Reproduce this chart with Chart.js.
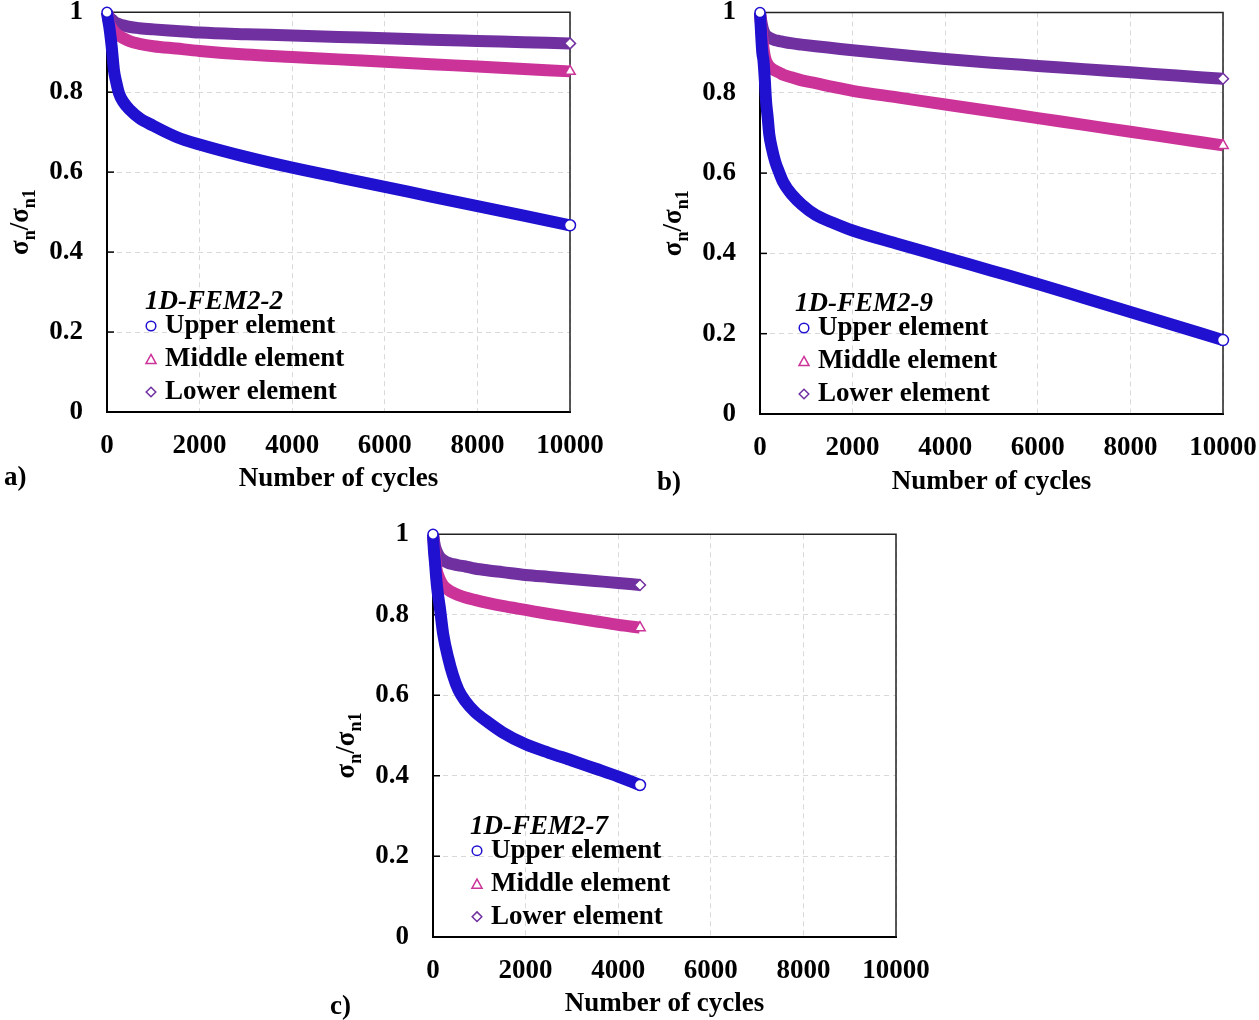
<!DOCTYPE html>
<html>
<head>
<meta charset="utf-8">
<title>Normalised stress vs number of cycles</title>
<script src="https://cdn.jsdelivr.net/npm/chart.js@4.4.1/dist/chart.umd.min.js"></script>
<style>
  html, body { margin: 0; padding: 0; background: #fff; overflow: hidden; }
  body { width: 1259px; height: 1020px; position: relative; }
  canvas { position: absolute; }
</style>
</head>
<body>
<canvas id="chartA" width="630" height="528" style="left:0px;top:-28px"></canvas>
<canvas id="chartB" width="622" height="530" style="left:653px;top:-28px"></canvas>
<canvas id="chartC" width="622" height="526" style="left:326px;top:494px"></canvas>
<script>
// axis ticks and series names
var xTicks = [0, 2000, 4000, 6000, 8000, 10000];
var yTicks = [0, 0.2, 0.4, 0.6, 0.8, 1];
var seriesNames = ['Upper element', 'Middle element', 'Lower element'];

// a) 1D-FEM2-2
var cyclesA = [0, 25, 50, 100, 150, 200, 260, 350, 500, 700, 1000, 1500, 2000, 3000, 4000, 5000, 6000, 7000, 8000, 9000, 10000];
var upperA  = [1.0, 0.98, 0.963, 0.915, 0.855, 0.825, 0.797, 0.776, 0.755, 0.735, 0.716, 0.688, 0.669, 0.638, 0.611, 0.587, 0.563, 0.539, 0.515, 0.491, 0.467];
var middleA = [1.0, 0.985, 0.972, 0.96, 0.952, 0.946, 0.941, 0.935, 0.927, 0.921, 0.915, 0.909, 0.903, 0.894, 0.888, 0.882, 0.876, 0.870, 0.864, 0.858, 0.852];
var lowerA  = [1.0, 0.993, 0.988, 0.982, 0.977, 0.973, 0.970, 0.967, 0.963, 0.960, 0.957, 0.953, 0.949, 0.945, 0.942, 0.938, 0.935, 0.931, 0.928, 0.925, 0.922];

// b) 1D-FEM2-9
var cyclesB = [0, 25, 50, 75, 100, 130, 165, 200, 260, 330, 420, 500, 700, 900, 1200, 1600, 2000, 3000, 4000, 5000, 6000, 7000, 8000, 9000, 10000];
var upperB  = [1.0, 0.945, 0.90, 0.88, 0.84, 0.78, 0.74, 0.697, 0.66, 0.628, 0.60, 0.578, 0.545, 0.522, 0.496, 0.475, 0.457, 0.423, 0.39, 0.357, 0.324, 0.289, 0.254, 0.219, 0.184];
var middleB = [1.0, 0.965, 0.935, 0.912, 0.893, 0.88, 0.872, 0.866, 0.86, 0.855, 0.85, 0.845, 0.838, 0.831, 0.824, 0.814, 0.805, 0.788, 0.771, 0.754, 0.737, 0.72, 0.703, 0.686, 0.669];
var lowerB  = [1.0, 0.98, 0.965, 0.955, 0.948, 0.943, 0.94, 0.937, 0.934, 0.931, 0.929, 0.927, 0.923, 0.92, 0.916, 0.911, 0.906, 0.895, 0.884, 0.875, 0.867, 0.859, 0.851, 0.843, 0.835];

// c) 1D-FEM2-7
var cyclesC = [0, 20, 43, 70, 100, 150, 220, 330, 430, 550, 700, 900, 1200, 1500, 2000, 2500, 3000, 3500, 4000, 4470];
var upperC  = [1.0, 0.96, 0.93, 0.89, 0.857, 0.816, 0.752, 0.692, 0.65, 0.613, 0.585, 0.559, 0.532, 0.508, 0.478, 0.457, 0.438, 0.418, 0.398, 0.377];
var middleC = [1.0, 0.975, 0.945, 0.917, 0.902, 0.887, 0.873, 0.862, 0.855, 0.849, 0.843, 0.837, 0.829, 0.822, 0.812, 0.802, 0.793, 0.784, 0.775, 0.768];
var lowerC  = [1.0, 0.985, 0.97, 0.96, 0.952, 0.943, 0.936, 0.929, 0.926, 0.923, 0.92, 0.915, 0.91, 0.906, 0.899, 0.894, 0.889, 0.884, 0.879, 0.874];

var FONT = '"Liberation Serif", "Times New Roman", serif';
var colors = ['#2010D0', '#CC3399', '#7030A0'];
var styles = ['circle', 'triangle', 'rectRot'];

function drawMarker(ctx, style, x, y, r) {
  ctx.beginPath();
  if (style === 'circle') {
    ctx.arc(x, y, r, 0, Math.PI * 2);
  } else if (style === 'triangle') {
    var h = r * 1.9, w = r * 2.1;
    ctx.moveTo(x, y - h / 2);
    ctx.lineTo(x + w / 2, y + h / 2);
    ctx.lineTo(x - w / 2, y + h / 2);
  } else {
    ctx.moveTo(x, y - r);
    ctx.lineTo(x + r, y);
    ctx.lineTo(x, y + r);
    ctx.lineTo(x - r, y);
  }
  ctx.closePath();
  ctx.fill();
  ctx.stroke();
}

// frame, inner ticks, legend, y title, panel letter
var decor = {
  id: 'decor',
  beforeDatasetsDraw: function (chart) {
    var ctx = chart.ctx, a = chart.chartArea, ys = chart.scales.y;
    ctx.save();
    ctx.strokeStyle = '#222';
    ctx.lineWidth = 1.5;
    ctx.beginPath();
    ctx.moveTo(a.left, a.top);
    ctx.lineTo(a.right, a.top);
    ctx.lineTo(a.right, a.bottom);
    ctx.stroke();
    ctx.strokeStyle = '#000';
    yTicks.forEach(function (v) {
      if (v === 0 || v === 1) return;
      var py = ys.getPixelForValue(v);
      ctx.beginPath();
      ctx.moveTo(a.left, py);
      ctx.lineTo(a.left + 7, py);
      ctx.stroke();
    });
    ctx.restore();
  },
  afterDraw: function (chart, args, o) {
    var ctx = chart.ctx, a = chart.chartArea;
    ctx.save();
    ctx.fillStyle = '#000';
    ctx.textBaseline = 'middle';
    ctx.textAlign = 'left';

    // legend
    ctx.font = 'italic bold 27px ' + FONT;
    ctx.fillText(o.title, a.left + o.titleDx, a.bottom - 110);
    var rows = [-86, -53, -20];
    chart.data.datasets.forEach(function (ds, i) {
      var y = a.bottom + rows[i];
      ctx.fillStyle = '#fff';
      ctx.strokeStyle = ds.borderColor;
      ctx.lineWidth = 1.5;
      drawMarker(ctx, styles[i], a.left + 44, y, 4.8);
      ctx.fillStyle = '#000';
      ctx.font = 'bold 27px ' + FONT;
      ctx.fillText(ds.label, a.left + 58, y);
    });

    // y axis title with subscripts
    var parts = [['σ', 27, 0], ['n', 18, 7], ['/σ', 27, 0], ['n1', 18, 7]];
    ctx.translate(a.left - 79, (a.top + a.bottom) / 2 + 10);
    ctx.rotate(-Math.PI / 2);
    ctx.textBaseline = 'alphabetic';
    var total = 0;
    parts.forEach(function (p) {
      ctx.font = 'bold ' + p[1] + 'px ' + FONT;
      total += ctx.measureText(p[0]).width;
    });
    var x = -total / 2;
    parts.forEach(function (p) {
      ctx.font = 'bold ' + p[1] + 'px ' + FONT;
      ctx.fillText(p[0], x, p[2]);
      x += ctx.measureText(p[0]).width;
    });
    ctx.restore();

    ctx.save();
    ctx.fillStyle = '#000';
    ctx.textBaseline = 'middle';
    ctx.font = 'bold 27px ' + FONT;
    ctx.fillText(o.letter, o.letterX, o.letterY);
    ctx.restore();
  }
};

function makePanel(id, cycles, upper, middle, lower, opt) {
  var values = [upper, middle, lower];
  var datasets = values.map(function (vals, i) {
    var last = vals.length - 1;
    return {
      label: seriesNames[i],
      data: vals.map(function (v, k) { return { x: cycles[k], y: v }; }),
      borderColor: colors[i],
      borderWidth: 12,
      cubicInterpolationMode: 'monotone',
      pointStyle: styles[i],
      pointRadius: function (c) {
        if (c.dataIndex === last) return i === 1 ? 6 : 5.5;
        if (c.dataIndex === 0 && i === 0) return 5;
        return 0;
      },
      pointBackgroundColor: '#fff',
      pointBorderColor: colors[i],
      pointBorderWidth: 1.5,
      clip: false
    };
  });

  return new Chart(document.getElementById(id), {
    type: 'line',
    data: { datasets: datasets },
    options: {
      responsive: false,
      animation: false,
      events: [],
      layout: { padding: { left: 0, top: opt.top, right: opt.right, bottom: 0 } },
      plugins: {
        legend: { display: false },
        tooltip: { enabled: false },
        decor: opt.decor
      },
      scales: {
        x: {
          type: 'linear',
          min: 0,
          max: 10000,
          afterBuildTicks: function (s) { s.ticks = xTicks.map(function (v) { return { value: v }; }); },
          afterFit: function (s) { s.height = opt.xHeight; },
          ticks: {
            padding: 18,
            maxRotation: 0,
            color: '#000',
            font: { family: FONT, size: 27, weight: 'bold' },
            callback: function (v) { return String(v); }
          },
          grid: { color: '#d9d9d9', lineWidth: 1, drawTicks: false },
          border: { color: '#000', width: 2, dash: [5, 4] },
          title: {
            display: true,
            text: 'Number of cycles',
            color: '#000',
            font: { family: FONT, size: 27, weight: 'bold' },
            padding: { top: 0, bottom: opt.titlePad }
          }
        },
        y: {
          min: 0,
          max: 1,
          afterBuildTicks: function (s) { s.ticks = yTicks.map(function (v) { return { value: v }; }); },
          afterFit: function (s) { s.width = 107; },
          ticks: {
            padding: 24,
            color: '#000',
            font: { family: FONT, size: 27, weight: 'bold' },
            callback: function (v) { return String(v); }
          },
          grid: { color: '#d9d9d9', lineWidth: 1, drawTicks: false },
          border: { color: '#000', width: 2, dash: [5, 4] }
        }
      }
    },
    plugins: [decor]
  });
}

makePanel('chartA', cyclesA, upperA, middleA, lowerA, {
  top: 40, right: 60, xHeight: 88, titlePad: 5,
  decor: { title: '1D-FEM2-2', titleDx: 38, letter: 'a)', letterX: 4, letterY: 506.5 }
});
makePanel('chartB', cyclesB, upperB, middleB, lowerB, {
  top: 40.5, right: 52, xHeight: 88, titlePad: 4,
  decor: { title: '1D-FEM2-9', titleDx: 35, letter: 'b)', letterX: 4, letterY: 511 }
});
makePanel('chartC', cyclesC, upperC, middleC, lowerC, {
  top: 40.3, right: 52, xHeight: 83.3, titlePad: 0,
  decor: { title: '1D-FEM2-7', titleDx: 37, letter: 'c)', letterX: 4, letterY: 513 }
});
</script>
</body>
</html>
